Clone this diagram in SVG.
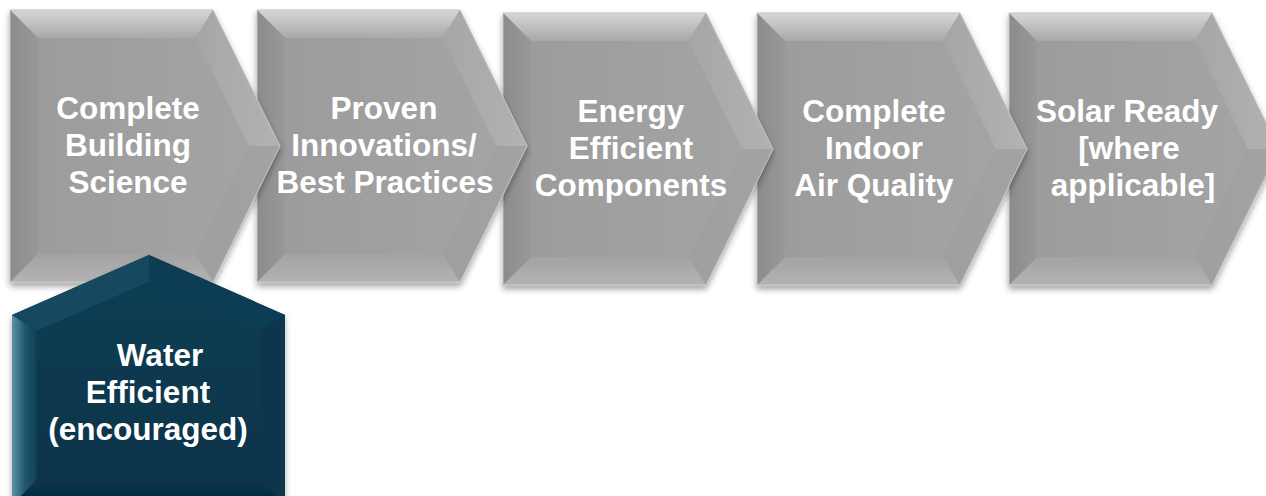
<svg xmlns="http://www.w3.org/2000/svg" xmlns:xlink="http://www.w3.org/1999/xlink" width="1266" height="496" viewBox="0 0 1266 496">
<style>
.lbl{font-family:"Liberation Sans",Arial,sans-serif;font-weight:bold;font-size:31.5px;fill:#ffffff;text-anchor:middle}
</style>
<defs>
<filter id="sh" x="-10%" y="-10%" width="125%" height="125%">
<feDropShadow dx="0" dy="4" stdDeviation="3" flood-color="#000" flood-opacity="0.35"/>
</filter>
<linearGradient id="gFace" x1="0" y1="0" x2="1" y2="0">
<stop offset="0" stop-color="#9c9c9c"/><stop offset="1" stop-color="#a4a4a4"/>
</linearGradient>
<linearGradient id="gTop" x1="0" y1="0" x2="0" y2="1">
<stop offset="0" stop-color="#d6d6d6"/><stop offset="1" stop-color="#a8a8a8"/>
</linearGradient>
<linearGradient id="gLeft" x1="0" y1="0" x2="1" y2="0">
<stop offset="0" stop-color="#8c8c8c"/><stop offset="1" stop-color="#989898"/>
</linearGradient>
<linearGradient id="gBot" x1="0" y1="0" x2="0" y2="1">
<stop offset="0" stop-color="#a3a3a3"/><stop offset="1" stop-color="#b3b3b3"/>
</linearGradient>
<linearGradient id="gUR" x1="0" y1="0" x2="1" y2="0">
<stop offset="0" stop-color="#a6a6a6"/><stop offset="1" stop-color="#b2b2b2"/>
</linearGradient>
<linearGradient id="gLR" x1="0" y1="0" x2="1" y2="0">
<stop offset="0" stop-color="#9f9f9f"/><stop offset="1" stop-color="#a3a3a3"/>
</linearGradient>
<g id="chev">
<polygon points="0,0 203,0 270,136 203,272 0,272" fill="#a0a0a0"/>
<polygon points="0,0 203,0 185.6,28 28,28" fill="url(#gTop)"/>
<polygon points="203,0 270,136 238.8,136 185.6,28" fill="url(#gUR)"/>
<polygon points="270,136 203,272 185.6,244 238.8,136" fill="url(#gLR)"/>
<polygon points="203,272 0,272 28,244 185.6,244" fill="url(#gBot)"/>
<polygon points="0,272 0,0 28,28 28,244" fill="url(#gLeft)"/>
<polygon points="28,28 185.6,28 238.8,136 185.6,244 28,244" fill="url(#gFace)"/>
<polygon points="0,0 203,0 270,136 203,272 0,272" fill="none" stroke="#c4c4c4" stroke-width="1"/>
</g>
<linearGradient id="wLeft" x1="0" y1="0" x2="1" y2="0">
<stop offset="0" stop-color="#5a93a8"/><stop offset="0.5" stop-color="#22586e"/><stop offset="1" stop-color="#0e3f55"/>
</linearGradient>
<linearGradient id="wFace" x1="0" y1="0" x2="0" y2="1">
<stop offset="0" stop-color="#0c3d53"/><stop offset="1" stop-color="#083449"/>
</linearGradient>
<linearGradient id="wBot" x1="0" y1="0" x2="0" y2="1">
<stop offset="0" stop-color="#083449"/><stop offset="1" stop-color="#042a3c"/>
</linearGradient>
</defs>

<g id="connectors"></g>

<g id="node5">
<use xlink:href="#chev" href="#chev" x="1009" y="13" filter="url(#sh)"/>
<text class="lbl" x="1127" y="122">Solar Ready</text>
<text class="lbl" x="1129" y="159">[where</text>
<text class="lbl" x="1133" y="196">applicable]</text>
</g>
<g id="node4">
<use xlink:href="#chev" href="#chev" x="757" y="13" filter="url(#sh)"/>
<text class="lbl" x="874" y="122">Complete</text>
<text class="lbl" x="874" y="159">Indoor</text>
<text class="lbl" x="874" y="196">Air Quality</text>
</g>
<g id="node3">
<use xlink:href="#chev" href="#chev" x="503" y="13" filter="url(#sh)"/>
<text class="lbl" x="631" y="122">Energy</text>
<text class="lbl" x="631" y="159">Efficient</text>
<text class="lbl" x="631" y="196">Components</text>
</g>
<g id="node2">
<use xlink:href="#chev" href="#chev" x="257" y="10" filter="url(#sh)"/>
<text class="lbl" x="384" y="119">Proven</text>
<text class="lbl" x="384" y="156">Innovations/</text>
<text class="lbl" x="385" y="193">Best Practices</text>
</g>
<g id="node1">
<use xlink:href="#chev" href="#chev" x="10" y="10" filter="url(#sh)"/>
<text class="lbl" x="128" y="119">Complete</text>
<text class="lbl" x="128" y="156">Building</text>
<text class="lbl" x="128" y="193">Science</text>
</g>

<g id="node6">
<g filter="url(#sh)">
<polygon points="149,255 285,315 285,505 12,505 12,315" fill="#0b3a50"/>
<polygon points="149,255 149,282 37,331 12,315" fill="#124860"/>
<polygon points="149,255 285,315 260,331 149,282" fill="#0c3d54"/>
<polygon points="285,315 285,505 260,480 260,331" fill="#08344b"/>
<polygon points="12,315 37,331 37,480 12,505" fill="url(#wLeft)"/>
<polygon points="37,480 260,480 285,505 12,505" fill="url(#wBot)"/>
<polygon points="149,282 260,331 260,480 37,480 37,331" fill="url(#wFace)"/>
</g>
<text class="lbl" x="160" y="366">Water</text>
<text class="lbl" x="148" y="403">Efficient</text>
<text class="lbl" x="148" y="440">(encouraged)</text>
</g>
</svg>
